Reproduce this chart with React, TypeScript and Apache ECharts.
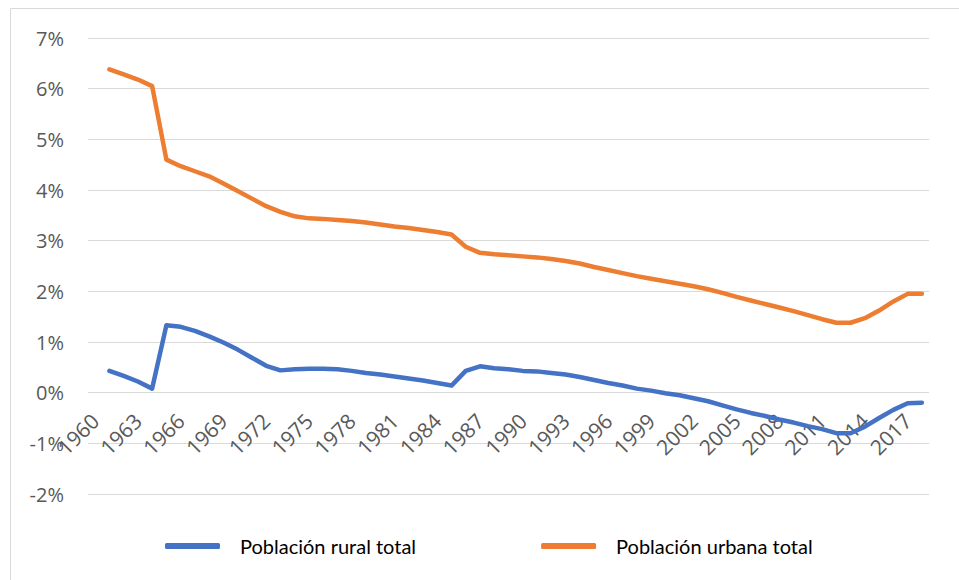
import React, { useEffect, useRef } from "react";
import * as echarts from "echarts";

const years: string[] = [];
for (let y = 1960; y <= 2018; y++) years.push(String(y));

const seriesNames = ["Población rural total", "Población urbana total"];

// 1960 has no value (growth rate), data from 1961 to 2018
const rural: (number | null)[] = [
  null,
  0.43, 0.33, 0.22, 0.08, 1.33, 1.30, 1.22, 1.11, 0.99, 0.85,
  0.69, 0.53, 0.44, 0.46, 0.47, 0.47, 0.46, 0.43, 0.39, 0.36,
  0.32, 0.28, 0.24, 0.19, 0.14, 0.43, 0.52, 0.48, 0.46, 0.43,
  0.42, 0.39, 0.36, 0.31, 0.25, 0.19, 0.14, 0.08, 0.04, -0.01,
  -0.05, -0.11, -0.17, -0.25, -0.33, -0.40, -0.46, -0.53, -0.59, -0.66,
  -0.72, -0.80, -0.80, -0.67, -0.50, -0.34, -0.21, -0.20,
];

const urban: (number | null)[] = [
  null,
  6.38, 6.28, 6.18, 6.05, 4.60, 4.47, 4.37, 4.27, 4.13, 3.98,
  3.83, 3.68, 3.57, 3.48, 3.44, 3.43, 3.41, 3.39, 3.36, 3.32,
  3.28, 3.25, 3.21, 3.17, 3.12, 2.88, 2.76, 2.73, 2.71, 2.69,
  2.67, 2.64, 2.60, 2.55, 2.48, 2.42, 2.36, 2.30, 2.25, 2.20,
  2.15, 2.10, 2.04, 1.97, 1.89, 1.82, 1.75, 1.68, 1.61, 1.53,
  1.45, 1.38, 1.38, 1.47, 1.62, 1.80, 1.95, 1.95,
];

const yMin = -2;
const yMax = 7;
const yStep = 1;

export default function App() {
  const ref = useRef<HTMLDivElement>(null);
  useEffect(() => {
    if (!ref.current) return;
    const chart = echarts.init(ref.current, null, { renderer: "svg" });
    const axisFont = "'Open Sans', 'Noto Sans', sans-serif";
    chart.setOption({
      animation: false,
      backgroundColor: "#ffffff",
      graphic: [
        {
          type: "rect",
          shape: { x: 10.5, y: 8.5, width: 1000, height: 1000 },
          style: { fill: "none", stroke: "#d9d9d9", lineWidth: 1 },
          silent: true,
        },
      ],
      grid: { left: 88, right: 30, top: 38, bottom: 86, containLabel: false },
      legend: {
        left: 160,
        top: 531,
        itemWidth: 55,
        itemHeight: 6,
        itemGap: 125,
        icon: "roundRect",
        textStyle: {
          color: "#000000",
          fontSize: 20,
          fontFamily: "Lato, 'Noto Sans', sans-serif",
          padding: [0, 0, 0, 15],
        },
        data: seriesNames,
      },
      xAxis: {
        type: "category",
        data: years,
        boundaryGap: true,
        axisLine: { show: false, onZero: false },
        axisTick: { show: false },
        axisLabel: {
          interval: 2,
          rotate: 45,
          color: "#595959",
          fontSize: 21,
          fontFamily: axisFont,
          margin: -77,
        },
        splitLine: { show: false },
      },
      yAxis: {
        type: "value",
        min: yMin,
        max: yMax,
        interval: yStep,
        axisLine: { show: false },
        axisTick: { show: false },
        axisLabel: {
          formatter: "{value}%",
          color: "#595959",
          fontSize: 20,
          fontFamily: axisFont,
          margin: 24,
        },
        splitLine: { lineStyle: { color: "#d9d9d9", width: 1 } },
      },
      series: [
        {
          name: seriesNames[0],
          type: "line",
          data: rural,
          showSymbol: false,
          symbol: "none",
          lineStyle: { color: "#4472C4", width: 4.5, cap: "round", join: "round" },
          itemStyle: { color: "#4472C4" },
        },
        {
          name: seriesNames[1],
          type: "line",
          data: urban,
          showSymbol: false,
          symbol: "none",
          lineStyle: { color: "#ED7D31", width: 4.5, cap: "round", join: "round" },
          itemStyle: { color: "#ED7D31" },
        },
      ],
    });
    return () => chart.dispose();
  }, []);
  return (
    <div
      ref={ref}
      style={{ position: "fixed", left: 0, top: 0, width: 959, height: 580 }}
    />
  );
}
